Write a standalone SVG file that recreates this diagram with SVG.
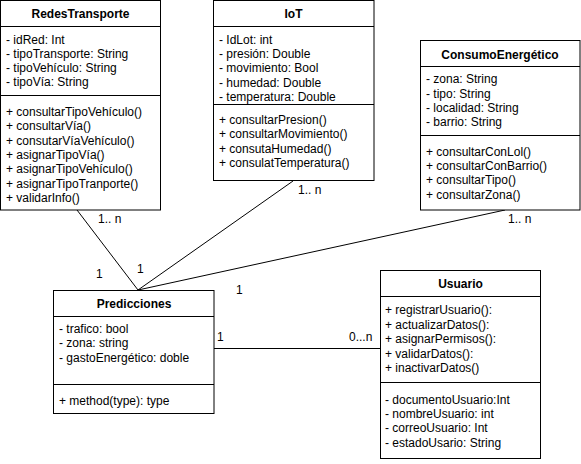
<svg xmlns="http://www.w3.org/2000/svg" width="581" height="464" viewBox="0 0 581 464">
<style>
.box{fill:#fff;stroke:#000;stroke-width:1}
.sep{stroke:#000;stroke-width:1}
.t{font-family:"Liberation Sans",Arial,Helvetica,sans-serif;font-size:12px;fill:#000;dominant-baseline:central}
.h{font-family:"Liberation Sans",Arial,Helvetica,sans-serif;font-size:12px;font-weight:bold;fill:#000;text-anchor:middle;dominant-baseline:central}
.c{stroke:#000;stroke-width:1;fill:none}
</style>
<rect width="581" height="464" fill="#fff"/>
<g id="connectors">
<line class="c" x1="77" y1="210" x2="138" y2="290"/>
<line class="c" x1="293" y1="181" x2="138" y2="290"/>
<line class="c" x1="505" y1="210" x2="138" y2="290"/>
<line class="c" x1="214" y1="348.5" x2="380" y2="348.5"/>
<text class="t" x="98" y="219">1.. n</text>
<text class="t" x="298" y="190">1.. n</text>
<text class="t" x="508" y="219">1.. n</text>
<text class="t" x="96" y="274">1</text>
<text class="t" x="137" y="269">1</text>
<text class="t" x="236" y="290">1</text>
<text class="t" x="217" y="337">1</text>
<text class="t" x="349" y="337">0...n</text>
</g>
<g id="RedesTransporte">
<rect class="box" x="0.5" y="0.5" width="160" height="209.5"/>
<line class="sep" x1="0.5" y1="26.5" x2="160.5" y2="26.5"/>
<line class="sep" x1="0.5" y1="95.5" x2="160.5" y2="95.5"/>
<text class="h" x="80.5" y="14">RedesTransporte</text>
<text class="t" x="6" y="40">- idRed: Int</text>
<text class="t" x="6" y="54">- tipoTransporte: String</text>
<text class="t" x="6" y="68">- tipoVehículo: String</text>
<text class="t" x="6" y="82">- tipoVía: String</text>
<text class="t" x="6" y="112">+ consultarTipoVehículo()</text>
<text class="t" x="6" y="126">+ consultarVía()</text>
<text class="t" x="6" y="140.5">+ consutarVíaVehículo()</text>
<text class="t" x="6" y="155">+ asignarTipoVía()</text>
<text class="t" x="6" y="169">+ asignarTipoVehículo()</text>
<text class="t" x="6" y="183.5">+ asignarTipoTranporte()</text>
<text class="t" x="6" y="198">+ validarInfo()</text>
</g>
<g id="IoT">
<rect class="box" x="213.5" y="0.5" width="160.5" height="180"/>
<line class="sep" x1="213.5" y1="26.5" x2="374" y2="26.5"/>
<line class="sep" x1="213.5" y1="104.5" x2="374" y2="104.5"/>
<text class="h" x="293.5" y="14">IoT</text>
<text class="t" x="219" y="40">- IdLot: int</text>
<text class="t" x="219" y="54">- presión: Double</text>
<text class="t" x="219" y="68">- movimiento: Bool</text>
<text class="t" x="219" y="82.5">- humedad: Double</text>
<text class="t" x="219" y="97">- temperatura: Double</text>
<text class="t" x="219" y="120">+ consultarPresion()</text>
<text class="t" x="219" y="134">+ consultarMovimiento()</text>
<text class="t" x="219" y="148.5">+ consutaHumedad()</text>
<text class="t" x="219" y="163">+ consulatTemperatura()</text>
</g>
<g id="ConsumoEnergetico">
<rect class="box" x="420.5" y="40.5" width="159.5" height="169.5"/>
<line class="sep" x1="420.5" y1="66.5" x2="580" y2="66.5"/>
<line class="sep" x1="420.5" y1="135.5" x2="580" y2="135.5"/>
<text class="h" x="500" y="54.5">ConsumoEnergético</text>
<text class="t" x="426" y="79">- zona: String</text>
<text class="t" x="426" y="94">- tipo: String</text>
<text class="t" x="426" y="108">- localidad: String</text>
<text class="t" x="426" y="122">- barrio: String</text>
<text class="t" x="426" y="152">+ consultarConLol()</text>
<text class="t" x="426" y="166">+ consultarConBarrio()</text>
<text class="t" x="426" y="180">+ consultarTipo()</text>
<text class="t" x="426" y="194.5">+ consultarZona()</text>
</g>
<g id="Predicciones">
<rect class="box" x="53.5" y="290.5" width="160.5" height="123"/>
<line class="sep" x1="53.5" y1="316.5" x2="214" y2="316.5"/>
<line class="sep" x1="53.5" y1="384.5" x2="214" y2="384.5"/>
<text class="h" x="134" y="303.5">Predicciones</text>
<text class="t" x="59" y="329">- trafico: bool</text>
<text class="t" x="59" y="343">- zona: string</text>
<text class="t" x="59" y="357.5">- gastoEnergético: doble</text>
<text class="t" x="59" y="401">+ method(type): type</text>
</g>
<g id="Usuario">
<rect class="box" x="380.5" y="270.5" width="160" height="188"/>
<line class="sep" x1="380.5" y1="296.5" x2="540.5" y2="296.5"/>
<line class="sep" x1="380.5" y1="382.5" x2="540.5" y2="382.5"/>
<text class="h" x="460.5" y="284">Usuario</text>
<text class="t" x="385" y="310">+ registrarUsuario():</text>
<text class="t" x="385" y="324.5">+ actualizarDatos():</text>
<text class="t" x="385" y="339">+ asignarPermisos():</text>
<text class="t" x="385" y="353.5">+ validarDatos():</text>
<text class="t" x="385" y="368">+ inactivarDatos()</text>
<text class="t" x="385" y="399.5">- documentoUsuario:Int</text>
<text class="t" x="385" y="413.5">- nombreUsuario: int</text>
<text class="t" x="385" y="428">- correoUsuario: Int</text>
<text class="t" x="385" y="442.5">- estadoUsario: String</text>
</g>
</svg>
